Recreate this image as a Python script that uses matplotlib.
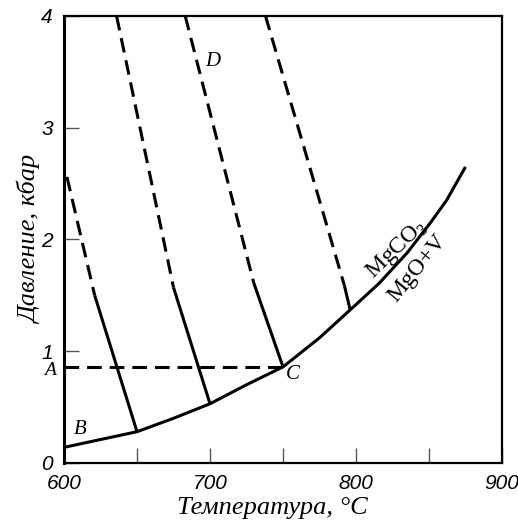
import matplotlib
matplotlib.use("Agg")
import matplotlib.pyplot as plt

# %%
# Values
# equilibrium curve MgCO3 = MgO + V
curve_t = [600, 625, 650, 675, 700, 725, 750, 775, 796, 816, 835, 851, 862, 875]
curve_p = [0.14, 0.21, 0.28, 0.40, 0.53, 0.70, 0.86, 1.12, 1.37, 1.61, 1.88, 2.15, 2.35, 2.65]

# the four isolines: top end, where dashes turn solid, end on the curve
iso_top_t = [602, 636, 683, 738]
iso_top_p = [2.56, 4.0, 4.0, 4.0]
iso_mid_t = [621, 675, 730, 792]
iso_mid_p = [1.50, 1.57, 1.61, 1.59]
iso_end_t = [650, 700, 750, 796]
iso_end_p = [0.28, 0.53, 0.86, 1.37]

# point A / C pressure
p_a = 0.86
t_c = 750

x_ticks = [600, 650, 700, 750, 800, 850, 900]
x_labels = ['600', '', '700', '', '800', '', '900']
y_ticks = [0, 1, 2, 3, 4]
y_labels = ['0', '1', '2', '3', '4']

# %%
serif = ['Liberation Serif', 'DejaVu Serif']
sans = ['Liberation Sans', 'DejaVu Sans']
plt.rcParams['mathtext.fontset'] = 'custom'
plt.rcParams['mathtext.rm'] = 'Liberation Serif'

fig = plt.figure(figsize=(5.18, 5.32), dpi=100)
ax = fig.add_axes([0.1236, 0.1297, 0.8455, 0.8403])

lw = 2.2
ax.plot(curve_t, curve_p, color='black', lw=lw, solid_capstyle='butt', zorder=3)

for i in range(len(iso_top_t)):
    ax.plot([iso_top_t[i], iso_mid_t[i]], [iso_top_p[i], iso_mid_p[i]],
            color='black', lw=lw, dashes=(4.8, 2.6), zorder=2)
    ax.plot([iso_mid_t[i], iso_end_t[i]], [iso_mid_p[i], iso_end_p[i]],
            color='black', lw=lw, solid_capstyle='butt', zorder=2)

ax.plot([600, t_c], [p_a, p_a], color='black', lw=lw, dashes=(4.8, 2.6), zorder=2)

# letters
ax.text(702, 3.59, 'D', fontsize=15, style='italic', family=serif, ha='center', va='center')
ax.text(611, 0.30, 'B', fontsize=15, style='italic', family=serif, ha='center', va='center')
ax.text(757, 0.79, 'C', fontsize=15, style='italic', family=serif, ha='center', va='center')
ax.text(-0.032, 0.83, 'A', transform=ax.get_yaxis_transform(), fontsize=14,
        style='italic', family=serif, ha='center', va='center')

ax.text(828, 1.91, r'MgCO$_3$', fontsize=17, family=serif, rotation=44,
        ha='center', va='center', rotation_mode='anchor')
ax.text(842, 1.74, 'MgO+V', fontsize=17, family=serif, rotation=51,
        ha='center', va='center', rotation_mode='anchor')

ax.set_xlim(600, 900)
ax.set_ylim(0, 4)
ax.set_xticks(x_ticks)
ax.set_xticklabels(x_labels)
ax.set_yticks(y_ticks)
ax.set_yticklabels(y_labels)
ax.tick_params(direction='in', length=11, width=1.0, color='#555555', pad=8,
               labelsize=15)
for lab in ax.get_xticklabels() + ax.get_yticklabels():
    lab.set_family(sans)
    lab.set_style('italic')

for side in ['top', 'right', 'bottom']:
    ax.spines[side].set_linewidth(1.6)
ax.spines['left'].set_linewidth(2.2)

ax.set_xlabel('Температура, °C', fontsize=19, style='italic', family=serif)
ax.set_ylabel('Давление, кбар', fontsize=19, style='italic', family=serif)
ax.xaxis.set_label_coords(0.475, -0.076)
ax.yaxis.set_label_coords(-0.05, 0.5)

fig.savefig('out.png', dpi=100)
